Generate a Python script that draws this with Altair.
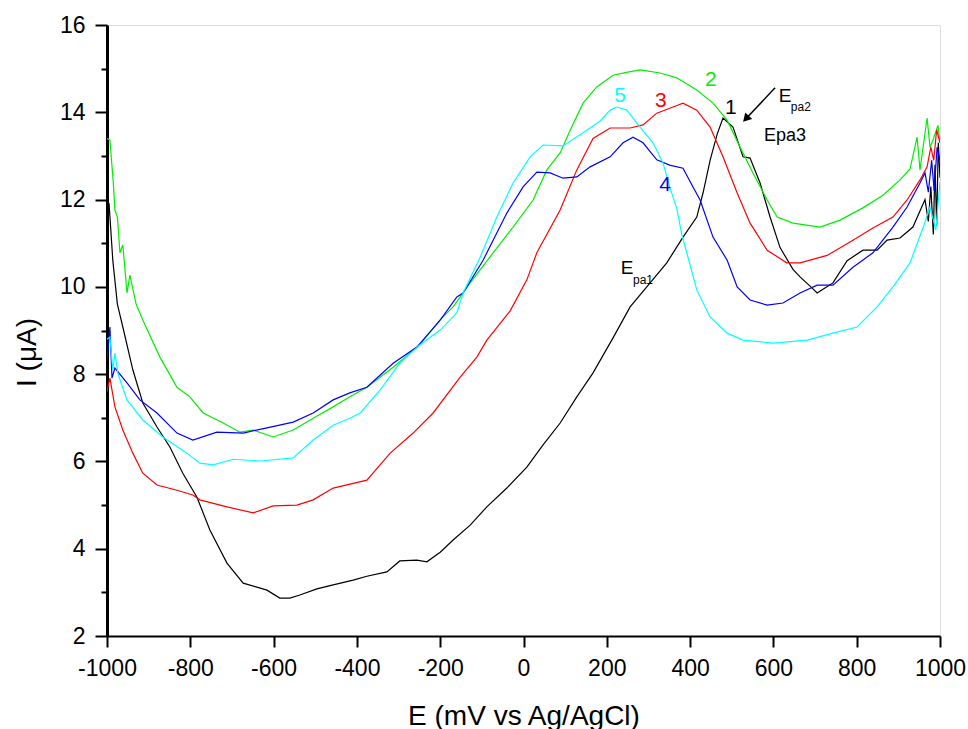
import altair as alt
import pandas as pd

# ---- data ----
E1 = [-1000, -995, -986, -975, -962, -938, -914, -880, -849, -818, -784, -753, -712, -673, -640, -616, -585, -561, -537, -496, -457, -409, -376, -328, -297, -256, -232, -200, -169, -128, -88, -40, 8, 47, 88, 128, 167, 215, 256, 296, 344, 383, 416, 431, 448, 465, 479, 503, 527, 544, 568, 592, 616, 647, 664, 690, 705, 720, 743, 777, 815, 849, 873, 904, 935, 964, 972, 978, 984, 988, 992, 996, 1000]
I1 = [12.0, 11.9, 10.6, 9.6, 9.08, 8.1, 7.34, 6.79, 6.33, 5.73, 5.18, 4.43, 3.67, 3.21, 3.12, 3.05, 2.87, 2.87, 2.94, 3.08, 3.17, 3.28, 3.37, 3.47, 3.72, 3.74, 3.70, 3.92, 4.20, 4.54, 4.96, 5.39, 5.87, 6.38, 6.88, 7.48, 8.03, 8.83, 9.54, 10.0, 10.55, 11.14, 11.6, 12.15, 12.9, 13.5, 13.87, 13.66, 12.98, 12.95, 12.38, 11.6, 10.9, 10.4, 10.23, 10.0, 9.86, 9.95, 10.09, 10.6, 10.84, 10.84, 11.07, 11.12, 11.37, 12.0, 11.5, 12.3, 11.2, 12.8, 11.4, 13.3, 12.5]

E2 = [-1000, -993, -985, -981, -975, -969, -962, -952, -945, -930, -914, -873, -832, -801, -769, -721, -681, -649, -601, -553, -505, -457, -417, -376, -313, -249, -200, -169, -128, -73, -25, 23, 56, 88, 112, 143, 176, 215, 250, 280, 328, 368, 416, 455, 489, 520, 551, 585, 609, 647, 712, 760, 815, 863, 904, 928, 945, 952, 969, 976, 983, 995, 1000]
I2 = [13.4, 13.36, 12.4, 11.76, 11.6, 10.78, 10.96, 9.86, 10.27, 9.6, 9.24, 8.39, 7.7, 7.48, 7.11, 6.88, 6.67, 6.72, 6.56, 6.72, 6.99, 7.25, 7.48, 7.7, 8.16, 8.67, 9.25, 9.54, 10.09, 10.78, 11.37, 11.99, 12.68, 13.07, 13.59, 14.21, 14.58, 14.85, 14.92, 14.97, 14.9, 14.79, 14.51, 14.21, 13.82, 13.2, 12.61, 11.99, 11.6, 11.46, 11.37, 11.53, 11.81, 12.1, 12.45, 12.7, 13.43, 12.68, 13.87, 13.2, 13.36, 13.7, 13.3]

E3 = [-1000, -993, -981, -962, -938, -914, -880, -832, -794, -777, -712, -649, -601, -544, -505, -457, -376, -320, -265, -217, -152, -112, -88, -32, 8, 32, 88, 128, 167, 208, 256, 287, 320, 359, 383, 416, 448, 479, 513, 544, 585, 632, 664, 729, 791, 839, 887, 921, 952, 969, 978, 985, 992, 1000]
I3 = [7.6, 7.91, 7.25, 6.72, 6.19, 5.73, 5.46, 5.34, 5.23, 5.12, 4.96, 4.82, 4.98, 5.0, 5.12, 5.39, 5.57, 6.19, 6.65, 7.11, 7.93, 8.39, 8.78, 9.45, 10.16, 10.78, 11.76, 12.68, 13.4, 13.64, 13.64, 13.71, 13.98, 14.12, 14.21, 14.05, 13.66, 12.98, 12.15, 11.46, 10.84, 10.55, 10.55, 10.72, 11.07, 11.35, 11.6, 11.99, 12.45, 12.75, 13.2, 12.9, 13.6, 13.3]

E4 = [-1000, -993, -988, -981, -952, -921, -880, -832, -794, -736, -673, -616, -553, -505, -457, -417, -376, -313, -256, -200, -160, -145, -97, -40, -1, 32, 64, 95, 128, 160, 208, 239, 263, 287, 320, 351, 383, 407, 424, 455, 489, 513, 544, 585, 623, 664, 705, 743, 791, 839, 887, 921, 952, 964, 972, 980, 986, 993, 1000]
I4 = [8.3, 9.08, 7.91, 8.14, 7.8, 7.41, 7.11, 6.65, 6.49, 6.67, 6.65, 6.77, 6.9, 7.11, 7.41, 7.57, 7.7, 8.25, 8.62, 9.24, 9.77, 9.86, 10.61, 11.69, 12.29, 12.63, 12.61, 12.49, 12.52, 12.75, 12.98, 13.3, 13.43, 13.3, 12.91, 12.79, 12.72, 12.29, 11.99, 11.14, 10.61, 10.0, 9.7, 9.58, 9.63, 9.86, 10.04, 10.04, 10.45, 10.78, 11.37, 11.83, 12.38, 12.61, 12.17, 12.9, 12.2, 13.2, 12.9]

E5 = [-1000, -993, -986, -981, -974, -952, -914, -866, -808, -777, -745, -697, -633, -553, -505, -457, -417, -392, -344, -297, -249, -200, -160, -145, -104, -64, -25, 16, 47, 95, 143, 184, 208, 224, 248, 280, 311, 335, 351, 368, 380, 392, 416, 448, 489, 527, 600, 681, 743, 801, 849, 887, 928, 960, 976, 990, 1000]
I5 = [8.8, 8.85, 8.09, 8.48, 8.02, 7.41, 6.95, 6.56, 6.19, 5.96, 5.92, 6.05, 6.01, 6.08, 6.49, 6.83, 6.99, 7.11, 7.64, 8.25, 8.67, 9.01, 9.4, 9.86, 10.68, 11.6, 12.38, 12.98, 13.25, 13.23, 13.53, 13.8, 14.05, 14.12, 14.05, 13.66, 13.3, 12.84, 12.29, 11.8, 11.2, 10.78, 9.93, 9.31, 8.94, 8.78, 8.71, 8.78, 8.94, 9.08, 9.54, 10.0, 10.55, 11.37, 11.83, 11.3, 12.4]

series_names = ["1", "2", "3", "4", "5"]
series_colors = ["#000000", "#00ee00", "#ff0000", "#0000ff", "#00ffff"]

# curve labels and annotations
label_text = ["1", "2", "3", "4", "5", "Epa3", "E", "pa2", "E", "pa1"]
label_E = [498, 450, 330, 340, 232, 628, 628, 666, 249, 287]
label_I = [14.10, 14.74, 14.26, 12.33, 14.37, 13.46, 14.37, 14.12, 10.43, 10.16]
label_color = ["#000000", "#00ee00", "#ff0000", "#0000ff", "#00ffff", "#000000", "#000000", "#000000", "#000000", "#000000"]
label_size = [21, 21, 21, 21, 21, 18, 19, 12, 19, 12]

arrow_E = [604, 534]
arrow_I = [14.56, 13.85]

x_ticks = list(range(-1000, 1001, 200))
y_ticks = list(range(2, 17, 1))

# ---- build tables ----
rows = []
for name, es, is_ in zip(series_names, [E1, E2, E3, E4, E5], [I1, I2, I3, I4, I5]):
    for e, i in zip(es, is_):
        rows.append({"E": e, "I": i, "curve": name})
df = pd.DataFrame(rows)
df["order"] = df.groupby("curve").cumcount()

lab = pd.DataFrame({"E": label_E, "I": label_I, "text": label_text,
                    "color": label_color, "size": label_size})
arr = pd.DataFrame({"E": arrow_E, "I": arrow_I, "k": [0, 1]})

FONT = "Liberation Sans"

xscale = alt.Scale(domain=[-1000, 1000], nice=False, zero=False)
yscale = alt.Scale(domain=[2, 16], nice=False, zero=False)

xaxis = alt.Axis(values=x_ticks, tickSize=11, tickWidth=2, domainWidth=2,
                 domainColor="black", tickColor="black", labelColor="black",
                 labelExpr="'' + datum.value",
                 labelFontSize=23, labelPadding=10, labelFont=FONT,
                 title="E (mV vs Ag/AgCl)", titleFont=FONT, titleFontSize=28,
                 titleFontWeight="normal", titleY=88, titleBaseline="alphabetic",
                 titleColor="black", grid=False, labelFlush=False)
yaxis = alt.Axis(values=y_ticks,
                 tickSize={"condition": {"test": "datum.value % 2 !== 0", "value": 6}, "value": 12},
                 tickWidth=2, domainWidth=3,
                 domainColor="black", tickColor="black", labelColor="black",
                 labelExpr="datum.value % 2 === 0 ? '' + datum.value : ''",
                 labelFontSize=23, labelPadding=10, labelFont=FONT,
                 title="I (μA)", titleFont=FONT, titleFontSize=28,
                 titleFontWeight="normal", titleX=-72, titleY=327,
                 titleBaseline="alphabetic", titleAngle=-90,
                 titleColor="black", grid=False, labelFlush=False)

lines = alt.Chart(df).mark_line(strokeWidth=1.2, clip=True).encode(
    x=alt.X("E:Q", scale=xscale, axis=xaxis),
    y=alt.Y("I:Q", scale=yscale, axis=yaxis),
    color=alt.Color("curve:N", scale=alt.Scale(domain=series_names, range=series_colors), legend=None),
    order="order:Q",
)

texts = alt.Chart(lab).mark_text(font=FONT, align="center", baseline="middle").encode(
    x=alt.X("E:Q", scale=xscale),
    y=alt.Y("I:Q", scale=yscale),
    text="text:N",
    color=alt.Color("color:N", scale=None),
    size=alt.Size("size:Q", scale=None),
)

arrow_line = alt.Chart(arr).mark_line(color="black", strokeWidth=1.5).encode(
    x=alt.X("E:Q", scale=xscale),
    y=alt.Y("I:Q", scale=yscale),
    order="k:Q",
)
arrow_head = alt.Chart(arr[arr.k == 1]).mark_point(
    shape="triangle-up", filled=True, color="black", size=90, angle=223, opacity=1
).encode(
    x=alt.X("E:Q", scale=xscale),
    y=alt.Y("I:Q", scale=yscale),
)

chart = alt.layer(lines, texts, arrow_line, arrow_head).properties(
    width=833, height=611,
    autosize=alt.AutoSizeParams(type="none"),
    padding={"left": 107, "top": 25, "right": 28, "bottom": 93},
).configure_view(stroke="black", strokeWidth=2).configure(background="white")

chart.save("out.html", embed_options={"renderer": "svg", "actions": False})
